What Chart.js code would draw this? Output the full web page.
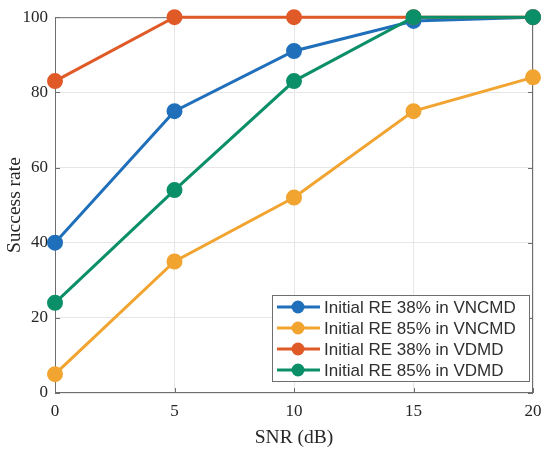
<!DOCTYPE html>
<html>
<head>
<meta charset="utf-8">
<script src="https://cdn.jsdelivr.net/npm/chart.js@4"></script>
<style>
  html, body { margin: 0; padding: 0; background: #fff; }
  #wrap { width: 550px; height: 450px; }
</style>
</head>
<body>
<div id="wrap"><canvas id="snrChart" width="550" height="450"></canvas></div>
<script>
// SNR values on the x axis
const snr = [0, 5, 10, 15, 20];
const xTicks = [0, 5, 10, 15, 20];
const yTicks = [0, 20, 40, 60, 80, 100];

// success rate per method
const vncmd38 = [40, 75, 91, 99, 100];
const vncmd85 = [5, 35, 52, 75, 84];
const vdmd38 = [83, 100, 100, 100, 100];
const vdmd85 = [24, 54, 83, 100, 100];

const seriesLabels = [
    'Initial RE 38% in VNCMD',
    'Initial RE 85% in VNCMD',
    'Initial RE 38% in VDMD',
    'Initial RE 85% in VDMD'
];
const seriesColors = ['#1f6fba', '#f2a431', '#e05a28', '#0a8f68'];

const serif = '"Liberation Serif", "Times New Roman", serif';
const sans = '"Liberation Sans", Arial, sans-serif';
const axisColor = '#6e6e6e';

function makeSet(i, values) {
    return {
        label: seriesLabels[i],
        data: snr.map((x, k) => ({ x: x, y: values[k] })),
        borderColor: seriesColors[i],
        backgroundColor: seriesColors[i],
        pointBackgroundColor: seriesColors[i],
        pointBorderColor: seriesColors[i],
        borderWidth: 3,
        pointRadius: 6.5,
        pointHoverRadius: 6.5,
        tension: 0,
        clip: false,
        order: 3 - i
    };
}

// box round the plot and inward tick marks, like the original
const boxPlugin = {
    id: 'box',
    beforeDatasetsDraw(chart) {
        const { ctx, chartArea: a, scales } = chart;
        ctx.save();
        ctx.strokeStyle = axisColor;
        ctx.lineWidth = 1;
        ctx.strokeRect(a.left + 0.5, a.top + 0.5, a.right - a.left - 1, a.bottom - a.top - 1);
        ctx.beginPath();
        xTicks.forEach(v => {
            const px = Math.round(scales.x.getPixelForValue(v)) + 0.5;
            ctx.moveTo(px, a.bottom); ctx.lineTo(px, a.bottom - 5);
            ctx.moveTo(px, a.top); ctx.lineTo(px, a.top + 5);
        });
        yTicks.forEach(v => {
            const py = Math.round(scales.y.getPixelForValue(v)) + 0.5;
            ctx.moveTo(a.left, py); ctx.lineTo(a.left + 5, py);
            ctx.moveTo(a.right, py); ctx.lineTo(a.right - 5, py);
        });
        ctx.stroke();
        ctx.restore();
    },
    afterDraw(chart) {
        // legend box in the lower right corner
        const { ctx } = chart;
        const x0 = 272, y0 = 295, w = 257, h = 86, row = 21;
        ctx.save();
        ctx.fillStyle = '#fff';
        ctx.fillRect(x0, y0, w, h);
        ctx.strokeStyle = axisColor;
        ctx.lineWidth = 1;
        ctx.strokeRect(x0 + 0.5, y0 + 0.5, w, h);
        ctx.font = '17px ' + sans;
        ctx.textBaseline = 'middle';
        chart.data.datasets.forEach((ds, i) => {
            const cy = y0 + 12 + i * row;
            ctx.strokeStyle = ds.borderColor;
            ctx.lineWidth = 3;
            ctx.beginPath();
            ctx.moveTo(x0 + 5, cy); ctx.lineTo(x0 + 48, cy);
            ctx.stroke();
            ctx.fillStyle = ds.borderColor;
            ctx.beginPath();
            ctx.arc(x0 + 26, cy, 6.5, 0, Math.PI * 2);
            ctx.fill();
            ctx.fillStyle = '#303030';
            ctx.fillText(ds.label, x0 + 52, cy + 1);
        });
        ctx.restore();
    }
};

new Chart(document.getElementById('snrChart'), {
    type: 'line',
    data: {
        datasets: [
            makeSet(0, vncmd38),
            makeSet(1, vncmd85),
            makeSet(2, vdmd38),
            makeSet(3, vdmd85)
        ]
    },
    options: {
        responsive: false,
        animation: false,
        layout: { padding: { top: 17, right: 17, left: 0, bottom: 0 } },
        plugins: {
            legend: { display: false },
            tooltip: { enabled: false }
        },
        scales: {
            x: {
                type: 'linear',
                min: 0,
                max: 20,
                afterFit(scale) { scale.height = 57; },
                afterBuildTicks(scale) { scale.ticks = xTicks.map(v => ({ value: v })); },
                grid: { color: '#e6e6e6', drawTicks: false },
                border: { display: false },
                ticks: {
                    color: '#262626',
                    padding: 8,
                    maxRotation: 0,
                    font: { family: serif, size: 17 }
                },
                title: {
                    display: true,
                    text: 'SNR (dB)',
                    color: '#262626',
                    padding: { top: 2, bottom: 0 },
                    font: { family: serif, size: 19.5 }
                }
            },
            y: {
                min: 0,
                max: 100,
                afterFit(scale) { scale.width = 55; },
                afterBuildTicks(scale) { scale.ticks = yTicks.map(v => ({ value: v })); },
                grid: { color: '#e6e6e6', drawTicks: false },
                border: { display: false },
                ticks: {
                    color: '#262626',
                    padding: 7,
                    font: { family: serif, size: 17 }
                },
                title: {
                    display: true,
                    text: 'Success rate',
                    color: '#262626',
                    padding: { top: 3, bottom: 0 },
                    font: { family: serif, size: 19.5 }
                }
            }
        }
    },
    plugins: [boxPlugin]
});
</script>
</body>
</html>
